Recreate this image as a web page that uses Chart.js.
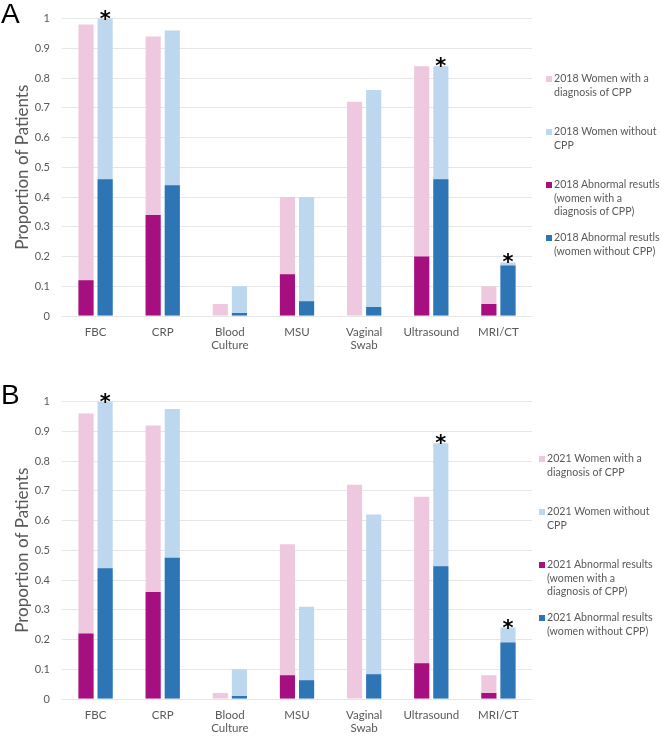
<!DOCTYPE html>
<html><head><meta charset="utf-8">
<script src="https://cdn.jsdelivr.net/npm/chart.js@4.4.1/dist/chart.umd.min.js"></script>
<style>
body{margin:0;background:#fff;width:661px;height:737px;position:relative;overflow:hidden;font-family:Lato,"Open Sans",sans-serif}
.panel{position:absolute;left:0;width:661px;height:356px}
.panel canvas{position:absolute;left:0;top:0}
.tag{position:absolute;left:1px;font-family:"Liberation Sans",Arial,sans-serif;font-size:28px;line-height:28px;color:#000}
.leg{position:absolute;font-family:Lato,sans-serif;font-size:10.6px;color:#595959;line-height:13.5px}
.leg .it{position:absolute;left:0;white-space:nowrap}
.leg .sw{position:absolute;left:0;top:3.5px;width:6px;height:6px}
.leg .tx{position:absolute;left:8px;top:0}
</style></head>
<body>
<div class="panel" id="pA" style="top:0"><canvas id="cA" width="661" height="356"></canvas></div>
<div class="panel" id="pB" style="top:383px"><canvas id="cB" width="661" height="356"></canvas></div>
<div class="tag" style="top:0px">A</div>
<div class="tag" style="top:381px">B</div>
<div class="leg" id="legA" style="left:546px;top:72px"></div>
<div class="leg" id="legB" style="left:539px;top:452px"></div>
<script>
// ---- data ----
const categories = [['FBC'], ['CRP'], ['Blood', 'Culture'], ['MSU'], ['Vaginal', 'Swab'], ['Ultrasound'], ['MRI/CT']];

const withCPP2018 = [0.98, 0.94, 0.04, 0.40, 0.72, 0.84, 0.10];
const withoutCPP2018 = [1.00, 0.96, 0.10, 0.40, 0.76, 0.84, 0.18];
const abnormalWith2018 = [0.12, 0.34, 0, 0.14, 0, 0.20, 0.04];
const abnormalWithout2018 = [0.46, 0.44, 0.01, 0.05, 0.03, 0.46, 0.17];
const significant2018 = [true, false, false, false, false, true, true];

const withCPP2021 = [0.96, 0.92, 0.02, 0.52, 0.72, 0.68, 0.08];
const withoutCPP2021 = [1.00, 0.975, 0.10, 0.31, 0.62, 0.86, 0.24];
const abnormalWith2021 = [0.22, 0.36, 0, 0.08, 0, 0.12, 0.02];
const abnormalWithout2021 = [0.44, 0.475, 0.01, 0.063, 0.083, 0.446, 0.19];
const significant2021 = [true, false, false, false, false, true, true];

const seriesNames2018 = [
  ['2018 Women with a', 'diagnosis of CPP'],
  ['2018 Women without', 'CPP'],
  ['2018 Abnormal resutls', '(women with a', 'diagnosis of CPP)'],
  ['2018 Abnormal resutls', '(women without CPP)']
];
const seriesNames2021 = [
  ['2021 Women with a', 'diagnosis of CPP'],
  ['2021 Women without', 'CPP'],
  ['2021 Abnormal results', '(women with a', 'diagnosis of CPP)'],
  ['2021 Abnormal results', '(women without CPP)']
];
const yTickValues = [0, 0.1, 0.2, 0.3, 0.4, 0.5, 0.6, 0.7, 0.8, 0.9, 1];
const yTitle = 'Proportion of Patients';

// ---- styles ----
const COLORS = ['#EDC8DE', '#BDD7EE', '#A50F80', '#2E75B6'];
const GREY = '#595959';

const starPlugin = {
  id: 'stars',
  afterDatasetsDraw(chart, args, opts) {
    const meta = chart.getDatasetMeta(1);
    const ctx = chart.ctx;
    ctx.save();
    ctx.font = 'bold 21px "DejaVu Sans"';
    ctx.fillStyle = '#000';
    ctx.textAlign = 'center';
    ctx.textBaseline = 'alphabetic';
    (opts.flags || []).forEach((f, i) => {
      if (!f) return;
      const el = meta.data[i];
      ctx.fillText('*', el.x, el.y + 7);
    });
    ctx.restore();
  }
};

function makeChart(id, withCPP, withoutCPP, abnWith, abnWithout, names, flags) {
  const flat = n => n.join(' ');
  return new Chart(document.getElementById(id), {
    type: 'bar',
    data: {
      labels: categories,
      datasets: [
        { label: flat(names[0]), data: withCPP, backgroundColor: COLORS[0], stack: 'cpp', order: 1 },
        { label: flat(names[1]), data: withoutCPP, backgroundColor: COLORS[1], stack: 'nocpp', order: 1 },
        { label: flat(names[2]), data: abnWith, backgroundColor: COLORS[2], stack: 'cpp', order: 0 },
        { label: flat(names[3]), data: abnWithout, backgroundColor: COLORS[3], stack: 'nocpp', order: 0 }
      ]
    },
    options: {
      responsive: false,
      animation: false,
      events: [],
      categoryPercentage: 0.57,
      barPercentage: 0.79,
      layout: { padding: { top: 17, right: 129, left: 0, bottom: 0 } },
      plugins: { legend: { display: false }, tooltip: { enabled: false }, stars: { flags } },
      scales: {
        x: {
          stacked: true,
          grid: { display: false, drawTicks: false },
          border: { display: false },
          ticks: { color: GREY, font: { family: 'Lato', size: 11.5 }, padding: 9, maxRotation: 0, autoSkip: false },
          afterFit(s) { s.height = 40; }
        },
        y: {
          stacked: false,
          min: 0, max: 1,
          afterBuildTicks(s) { s.ticks = yTickValues.map(v => ({ value: v })); },
          ticks: { color: GREY, font: { family: 'Lato', size: 11 }, padding: 12,
                   callback: v => String(Math.round(v * 10) / 10) },
          grid: { color: '#E6E6E6', drawTicks: false, lineWidth: 1 },
          border: { display: false },
          title: { display: true, text: yTitle, color: GREY, font: { family: 'Lato', size: 17, weight: 'normal' }, padding: { top: 12, bottom: 0 } },
          afterFit(s) { s.width = 62; }
        }
      }
    },
    plugins: [starPlugin]
  });
}

function makeLegend(id, names) {
  const el = document.getElementById(id);
  names.forEach((lines, i) => {
    const it = document.createElement('div');
    it.className = 'it';
    it.style.top = (i * 53) + 'px';
    const sw = document.createElement('div');
    sw.className = 'sw';
    sw.style.background = COLORS[i];
    const tx = document.createElement('div');
    tx.className = 'tx';
    tx.innerHTML = lines.map(l => l.replace(/&/g, '&amp;').replace(/</g, '&lt;')).join('<br>');
    it.appendChild(sw); it.appendChild(tx);
    el.appendChild(it);
  });
}

makeChart('cA', withCPP2018, withoutCPP2018, abnormalWith2018, abnormalWithout2018, seriesNames2018, significant2018);
makeChart('cB', withCPP2021, withoutCPP2021, abnormalWith2021, abnormalWithout2021, seriesNames2021, significant2021);
makeLegend('legA', seriesNames2018);
makeLegend('legB', seriesNames2021);
</script>
</body></html>
